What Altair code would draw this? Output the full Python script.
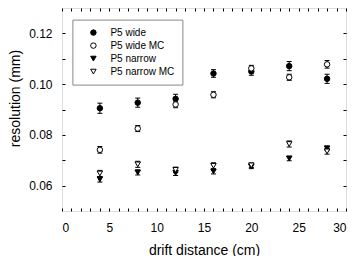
import altair as alt
import pandas as pd

distance = [4, 8, 12, 16, 20, 24, 28]
series_names = ["P5 wide", "P5 wide MC", "P5 narrow", "P5 narrow MC"]
wide = [0.0905, 0.0927, 0.0942, 0.1042, 0.1050, 0.1071, 0.1021]
wide_err = [0.0020, 0.0018, 0.0018, 0.0015, 0.0015, 0.0018, 0.0018]
wide_mc = [0.0741, 0.0825, 0.0920, 0.0958, 0.1062, 0.1027, 0.1078]
wide_mc_err = [0.0013, 0.0012, 0.0013, 0.0012, 0.0012, 0.0012, 0.0015]
narrow = [0.0625, 0.0652, 0.0650, 0.0656, 0.0675, 0.0707, 0.0747]
narrow_err = [0.0011, 0.0010, 0.0010, 0.0010, 0.0008, 0.0009, 0.0009]
narrow_mc = [0.0648, 0.0684, 0.0662, 0.0678, 0.0680, 0.0764, 0.0735]
narrow_mc_err = [0.0012, 0.0012, 0.0011, 0.0012, 0.0009, 0.0012, 0.0011]

x_label_values = [0, 5, 10, 15, 20, 25, 30]
x_tick_values = list(range(0, 31))
y_label_values = [0.06, 0.08, 0.10, 0.12]
y_tick_values = [0.06, 0.07, 0.08, 0.09, 0.10, 0.11, 0.12]

rows = []
for name, vals, errs in zip(series_names,
                            [wide, wide_mc, narrow, narrow_mc],
                            [wide_err, wide_mc_err, narrow_err, narrow_mc_err]):
    for d, v, e in zip(distance, vals, errs):
        rows.append({"series": name, "distance": d, "res": v,
                     "lo": v - e, "hi": v + e})
df = pd.DataFrame(rows)

FONT = "Liberation Sans"
xscale = alt.Scale(domain=[0, 30], nice=False, zero=False)
yscale = alt.Scale(domain=[0.05, 0.13], nice=False, zero=False)

common = dict(grid=False, labelFont=FONT, titleFont=FONT, labelColor="black",
              titleColor="black", tickColor="black", titleFontWeight="normal")

x_lab = alt.Axis(orient="bottom", values=x_label_values, ticks=False, domain=False,
                 labelPadding=11, labelFontSize=12, titleFontSize=14, titlePadding=10,
                 title="drift distance (cm)", **common)
y_lab = alt.Axis(orient="left", values=y_label_values, ticks=False, domain=False,
                 labelPadding=10, labelFontSize=12, titleFontSize=14, titlePadding=6,
                 format=".2f", title="resolution (mm)", titleY=90, **common)
x_tick_b = alt.Axis(orient="bottom", values=x_tick_values, labels=False, domain=False,
                    tickSize=3, offset=-3, title=None, **common)
x_tick_t = alt.Axis(orient="top", values=x_tick_values, labels=False, domain=False,
                    tickSize=3, offset=-3, title=None, **common)
y_tick_l = alt.Axis(orient="left", values=y_tick_values, labels=False, domain=False,
                    tickSize=3, offset=-3, title=None, **common)
y_tick_r = alt.Axis(orient="right", values=y_tick_values, labels=False, domain=False,
                    tickSize=3, offset=-3, title=None, **common)

base = alt.Chart(df)

rules = base.mark_rule(color="black", strokeWidth=1).encode(
    x=alt.X("distance:Q", scale=xscale, axis=x_lab),
    y=alt.Y("lo:Q", scale=yscale, axis=y_lab),
    y2="hi:Q",
)
caps_lo = base.mark_tick(orient="horizontal", size=5, thickness=1, color="black",
                         opacity=1).encode(
    x=alt.X("distance:Q", scale=xscale, axis=x_tick_b),
    y=alt.Y("lo:Q", scale=yscale, axis=y_tick_l),
)
caps_hi = base.mark_tick(orient="horizontal", size=5, thickness=1, color="black",
                         opacity=1).encode(
    x=alt.X("distance:Q", scale=xscale, axis=x_tick_t),
    y=alt.Y("hi:Q", scale=yscale, axis=y_tick_r),
)

legend = alt.Legend(orient="none", legendX=10.4, legendY=11.6, title=None,
                    strokeColor="#888888", fillColor="white", padding=8,
                    symbolOffset=8, labelOffset=12, rowPadding=3,
                    labelFont=FONT, labelFontSize=10, labelColor="black",
                    symbolSize=30, symbolStrokeWidth=1)

points = base.mark_point(filled=False, size=30, strokeWidth=1,
                         opacity=1, fillOpacity=1).encode(
    x=alt.X("distance:Q", scale=xscale, axis=None),
    y=alt.Y("res:Q", scale=yscale, axis=None),
    fill=alt.Fill("series:N", sort=series_names,
                  scale=alt.Scale(domain=series_names,
                                  range=["black", "white", "black", "white"]),
                  legend=legend),
    stroke=alt.Stroke("series:N", sort=series_names,
                      scale=alt.Scale(domain=series_names,
                                      range=["black", "black", "black", "black"]),
                      legend=legend),
    shape=alt.Shape("series:N", sort=series_names,
                    scale=alt.Scale(domain=series_names,
                                    range=["circle", "circle", "triangle-down",
                                           "triangle-down"]),
                    legend=legend),
)

chart = alt.layer(rules, caps_lo, caps_hi, points).resolve_axis(
    x="independent", y="independent"
).properties(
    width=284, height=203,
    autosize=alt.AutoSizeParams(type="none"),
    padding={"left": 54, "top": 0, "right": 6, "bottom": 45},
).configure_view(stroke="black", strokeWidth=1).configure(background="white")

chart.save("out.html", embed_options={"renderer": "svg", "actions": False})
